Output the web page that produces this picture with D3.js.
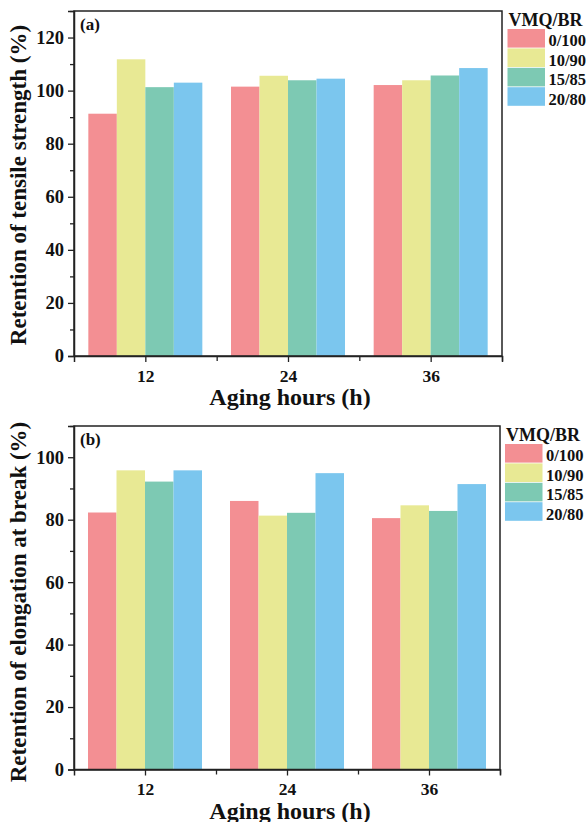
<!DOCTYPE html>
<html><head><meta charset="utf-8">
<script src="https://cdn.jsdelivr.net/npm/d3@7"></script>
<style>
html,body{margin:0;padding:0;background:#fff;}
svg text{font-family:'Times New Roman','Liberation Serif',serif !important;font-weight:bold;fill:#111;}
</style></head>
<body><svg id="c" width="587" height="822"></svg>
<script>
const hours = [12, 24, 36];
const seriesNames = ["0/100", "10/90", "15/85", "20/80"];
const colors = ["#F38F93", "#E8E994", "#7DC9B3", "#7BC6EE"];
const tensile0 = [91.3, 101.5, 102.1];
const tensile10 = [111.8, 105.6, 103.9];
const tensile15 = [101.3, 103.9, 105.7];
const tensile20 = [103.0, 104.5, 108.5];
const elong0 = [82.3, 86.0, 80.5];
const elong10 = [95.8, 81.3, 84.6];
const elong15 = [92.2, 82.2, 82.8];
const elong20 = [95.8, 94.9, 91.4];
const tensileTicks = [0, 20, 40, 60, 80, 100, 120];
const elongTicks = [0, 20, 40, 60, 80, 100];

const FONT = "'Times New Roman','Liberation Serif',serif";
const svg = d3.select("#c");

function panel(cfg){
  const g = svg.append("g");
  const x = d3.scaleLinear().domain([6, 42]).range([cfg.left, cfg.right]);
  const y = d3.scaleLinear().domain([0, cfg.ymax]).range([cfg.bottom, cfg.top]);
  const bw = 28.5;
  cfg.series.forEach((vals, si) => {
    g.selectAll(null).data(vals).enter().append("rect")
      .attr("x", (d, i) => x(hours[i]) + (si - 2) * bw)
      .attr("width", bw)
      .attr("y", d => y(d))
      .attr("height", d => y(0) - y(d))
      .attr("fill", colors[si]);
  });
  g.append("rect").attr("x", cfg.left).attr("y", cfg.top)
    .attr("width", cfg.right - cfg.left).attr("height", cfg.bottom - cfg.top)
    .attr("fill", "none").attr("stroke", "#222").attr("stroke-width", 1.5);
  const yMinor = d3.range(10, cfg.ymax + 1, 20);
  g.append("g").attr("transform", `translate(${cfg.left},0)`)
    .call(d3.axisLeft(y).tickValues(yMinor).tickSize(4).tickFormat(""))
    .call(a => a.select(".domain").remove())
    .selectAll("line").attr("stroke", "#222").attr("stroke-width", 1.3);
  const ya = g.append("g").attr("transform", `translate(${cfg.left},0)`)
    .call(d3.axisLeft(y).tickValues(cfg.yticks).tickSize(6).tickPadding(4));
  ya.attr("font-family", FONT).attr("font-size", 18.5);
  ya.select(".domain").attr("stroke", "#222").attr("stroke-width", 1.5);
  ya.selectAll("line").attr("stroke", "#222").attr("stroke-width", 1.3);
  ya.selectAll("text").attr("font-size", 18.5).attr("fill", "#111");
  g.append("g").attr("transform", `translate(0,${cfg.bottom})`)
    .call(d3.axisBottom(x).tickValues([18, 30, 42]).tickSize(5).tickFormat(""))
    .call(a => a.select(".domain").remove())
    .selectAll("line").attr("stroke", "#222").attr("stroke-width", 1.3);
  const xa = g.append("g").attr("transform", `translate(0,${cfg.bottom})`)
    .call(d3.axisBottom(x).tickValues(hours).tickSize(6).tickPadding(7.5));
  xa.attr("font-family", FONT).attr("font-size", 17.5);
  xa.select(".domain").attr("stroke", "#222").attr("stroke-width", 1.5);
  xa.selectAll("line").attr("stroke", "#222").attr("stroke-width", 1.3);
  xa.selectAll("text").attr("font-size", 17.5).attr("fill", "#111");
  g.append("text").attr("x", cfg.left + 6).attr("y", cfg.top + 19)
    .attr("font-size", 17).text(cfg.label);
  g.append("text").attr("x", 290).attr("y", cfg.bottom + 49)
    .attr("text-anchor", "middle").attr("font-size", 24).text("Aging hours (h)");
  g.append("text").attr("transform", `translate(26,${cfg.yTitleC}) rotate(-90)`)
    .attr("text-anchor", "middle").attr("font-size", 23).text(cfg.yTitle);
  const lg = g.append("g");
  lg.append("text").attr("x", cfg.legX + 1).attr("y", cfg.legY).attr("font-size", 18).text("VMQ/BR");
  seriesNames.forEach((n, i) => {
    const top = cfg.legY + 3 + i * 19.4;
    lg.append("rect").attr("x", cfg.legX).attr("y", top)
      .attr("width", 37.5).attr("height", 18.6).attr("fill", colors[i]);
    lg.append("text").attr("x", cfg.legX + 78.5).attr("y", top + 17.3)
      .attr("text-anchor", "end").attr("font-size", 16.5).text(n);
  });
}

panel({left: 74, right: 502, top: 11, bottom: 356, ymax: 130, yticks: tensileTicks,
  series: [tensile0, tensile10, tensile15, tensile20], label: "(a)",
  yTitleC: 185, yTitle: "Retention of tensile strength (%)", legX: 507.5, legY: 26});
panel({left: 74, right: 500, top: 426, bottom: 769.5, ymax: 110, yticks: elongTicks,
  series: [elong0, elong10, elong15, elong20], label: "(b)",
  yTitleC: 602, yTitle: "Retention of elongation at break (%)", legX: 505, legY: 441});
</script></body></html>
